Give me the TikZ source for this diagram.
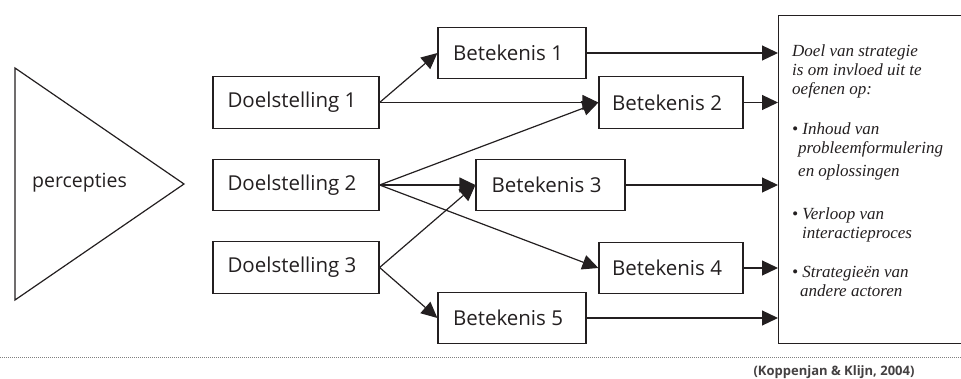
\documentclass[tikz,border=0pt]{standalone}
\usepackage{fontspec}
\setmainfont{Open Sans}
\newfontfamily\serifit{Liberation Serif}
\usetikzlibrary{arrows.meta}
\definecolor{ink}{HTML}{231F20}
\newcommand{\lbl}[1]{#1\hspace*{8pt}}
\begin{document}
\begin{tikzpicture}[x=1pt,y=-1pt,
  box/.style={draw=ink, line width=1.2pt, minimum height=51.5pt, inner sep=0pt,
    font=\fontsize{20.5}{23}\selectfont, text=ink},
  conn/.style={draw=ink, line width=1.2pt, -{Triangle[length=16pt,width=15pt]}},
]
\useasboundingbox (0,0) rectangle (961,379);

% triangle
\draw[ink, line width=1.2pt] (15,68) -- (184,184) -- (15,300) -- cycle;
\node[font=\fontsize{19.5}{22}\selectfont, text=ink, inner sep=0pt] (perc) at (79.5,183) {percepties};

% goals
\node[box, minimum width=166pt] (d1) at (296,102.5) {\lbl{Doelstelling 1}};
\node[box, minimum width=166pt] (d2) at (296,185) {\lbl{Doelstelling 2}};
\node[box, minimum width=166pt] (d3) at (296,267.5) {\lbl{Doelstelling 3}};

% meanings
\node[box, minimum width=148pt] (b1) at (512,53) {\lbl{Betekenis 1}};
\node[box, minimum width=144pt] (b2) at (671,102.5) {\lbl{Betekenis 2}};
\node[box, minimum width=149pt] (b3) at (550.5,185) {\lbl{Betekenis 3}};
\node[box, minimum width=144pt] (b4) at (671,268) {\lbl{Betekenis 4}};
\node[box, minimum width=148pt] (b5) at (512,318) {\lbl{Betekenis 5}};

% big box
\node[draw=ink, line width=1.4pt, anchor=north west, minimum width=200pt, minimum height=328pt, inner sep=0pt] (big) at (778,15) {};
\node[anchor=north west, inner sep=0pt, align=left, text=ink,
      font=\serifit\itshape\fontsize{17}{19}\selectfont] (goal) at (792,44.5)
  {Doel van strategie\\
   is om invloed uit te\\
   oefenen op:\\[21pt]
   \textbullet\ Inhoud van\\
   \hspace*{6pt}probleemformulering\\[4pt]
   \hspace*{6pt}en oplossingen\\[24pt]
   \textbullet\ Verloop van\\
   \hspace*{10pt}interactieproces\\[20pt]
   \textbullet\ Strategieën van\\
   \hspace*{8pt}andere actoren};

% connectors
\draw[conn] (d1.east) -- (b1.west);
\draw[conn] (d1.east) -- (b2.west);
\draw[conn] (d2.east) -- (b2.west);
\draw[conn] (d2.east) -- (b3.west);
\draw[conn] (d2.east) -- (b4.west);
\draw[conn] (d3.east) -- (b3.west);
\draw[conn] (d3.east) -- (b5.west);

\draw[conn] (b1.east) -- (b1.east -| big.west);
\draw[conn] (b2.east) -- (b2.east -| big.west);
\draw[conn] (b3.east) -- (b3.east -| big.west);
\draw[conn] (b4.east) -- (b4.east -| big.west);
\draw[conn] (b5.east) -- (b5.east -| big.west);

% footer
\coordinate (fl) at (0,357);
\coordinate (fr) at (961,357);
\draw[gray, line width=0.8pt, dash pattern=on 0.9pt off 1.1pt] (fl) -- (fr);
\node[inner sep=0pt, text=ink!85, font=\bfseries\fontsize{13}{15}\selectfont] (src) at (834,372) {(Koppenjan \& Klijn, 2004)};
\end{tikzpicture}
\end{document}
